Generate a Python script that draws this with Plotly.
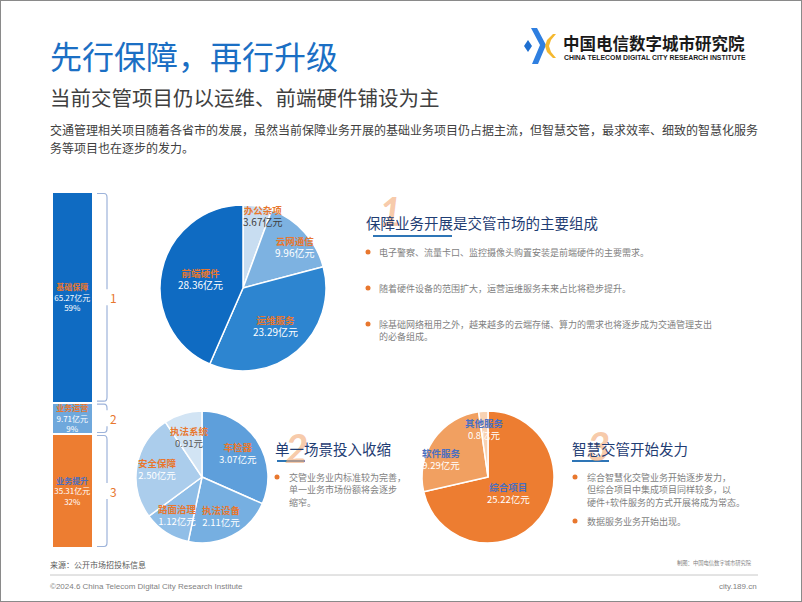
import math
import plotly.graph_objects as go

W, H = 802, 602
FONT = "Noto Sans CJK SC, Noto Sans, sans-serif"

# ---------------- data ----------------
bar_cats = ['基础保障', '业务运营', '业务提升']
bar_vals = [65.27, 9.71, 35.31]
bar_pcts = ['59%', '9%', '32%']
bar_nums = ['1', '2', '3']

p1_labels = ['办公杂项', '云网通信', '运维服务', '前端硬件']
p1_vals = [3.67, 9.96, 23.29, 28.36]
p1_vtext = ['3.67亿元', '9.96亿元', '23.29亿元', '28.36亿元']

p2_labels = ['车检器', '执法设备', '路面治理', '安全保障', '执法系统']
p2_vals = [3.07, 2.11, 1.12, 2.50, 0.91]
p2_vtext = ['3.07亿元', '2.11亿元', '1.12亿元', '2.50亿元', '0.91元']

p3_labels = ['综合项目', '软件服务', '其他服务']
p3_vals = [25.22, 9.29, 0.8]
p3_vtext = ['25.22亿元', '9.29亿元', '0.8亿元']

# ---------------- styles ----------------
ORANGE = '#e8772e'
bar_colors = ['#0f6bc2', '#6fa8dc', '#ed7d31']
bar_namecol = [ORANGE, ORANGE, '#4a6fc0']
p1_colors = ['#c8ddf1', '#7db2e1', '#2d85d0', '#0f6bc2']
p1_valcol = ['#404040', 'white', 'white', 'white']
p1_k = [0.88, 0.8, 0.6, 0.52]
p1_off = [(7, 0), (2, 4), (0, 0), (0, 0)]
p2_colors = ['#5e9fdb', '#76afe1', '#90bee7', '#abcdec', '#d2e4f4']
p2_valcol = ['white', 'white', 'white', 'white', '#595959']
p2_k = [0.66, 0.66, 0.68, 0.69, 0.64]
p2_off = [(0, 0), (0, 0), (0, 0), (0, 0), (0, 0)]
p3_colors = ['#ed7d31', '#f1a061', '#f8d2b3']
p3_valcol = ['white', 'white', 'white']
p3_k = [0.39, 0.74, 0.73]
p3_off = [(0, 0), (-6, 10), (0, 0)]

fig = go.Figure()
ann = []
shapes = []


def px(x):
    return x / W


def py(y):
    return 1 - y / H


def txt(x, y, s, size, color, anchor='left', family=FONT, yanchor='middle', **kw):
    ann.append(dict(x=px(x), y=py(y), xref='paper', yref='paper', text=s,
                    showarrow=False, xanchor=anchor, yanchor=yanchor,
                    font=dict(size=size, color=color, family=family), **kw))


def poly(points, color):
    d = 'M ' + ' L '.join(f'{px(a)},{py(b)}' for a, b in points) + ' Z'
    shapes.append(dict(type='path', path=d, xref='paper', yref='paper',
                       fillcolor=color, line=dict(width=0)))


# ---------------- stacked bar ----------------
total = sum(bar_vals)
for i in reversed(range(len(bar_vals))):
    t = (f"<b><span style='color:{bar_namecol[i]}'>{bar_cats[i]}</span></b><br>"
         f"{bar_vals[i]:.2f}亿元<br>{bar_pcts[i]}")
    fig.add_trace(go.Bar(x=[0], y=[bar_vals[i]], width=1, marker=dict(color=bar_colors[i], line=dict(color='white', width=2.5)),
                         text=[t], textposition='inside', insidetextanchor='middle', constraintext='none', textangle=0,
                         textfont=dict(size=8, color='white', family=FONT), hoverinfo='skip', showlegend=False))

bar_top, bar_bot = 192, 548
ppu = (bar_bot - bar_top) / total
hi = total
for i, v in enumerate(bar_vals):
    lo = hi - v
    top = hi - 1.5 / ppu
    bot = lo + 1.5 / ppu
    mid = (hi + lo) / 2
    gap = 8 / ppu
    rr = 4 / ppu
    x0, xc, x1 = px(97), px(104), px(107)
    path = (f"M {x0},{top} L {xc},{top} Q {x1},{top} {x1},{top - rr} L {x1},{mid + gap} "
            f"M {x1},{mid - gap} L {x1},{bot + rr} Q {x1},{bot} {xc},{bot} L {x0},{bot}")
    shapes.append(dict(type='path', path=path, xref='paper', yref='y', line=dict(color='#9db3da', width=1.2)))
    ann.append(dict(x=px(107.5), y=mid, xref='paper', yref='y', text=bar_nums[i], showarrow=False,
                    font=dict(size=12, color=ORANGE, family=FONT)))
    hi = lo


# ---------------- pies ----------------
def add_pie(labels, vals, colors, cx, cy, r, vtext, namecol, valcol, ks, offs, nsize, vsize):
    fig.add_trace(go.Pie(labels=labels, values=vals, sort=False, direction='clockwise', rotation=0,
                         marker=dict(colors=colors, line=dict(color='white', width=1.5)),
                         textinfo='none', hoverinfo='skip', showlegend=False,
                         domain=dict(x=[px(cx - r), px(cx + r)], y=[py(cy + r), py(cy - r)])))
    tot = sum(vals)
    cum = 0
    for i, v in enumerate(vals):
        a = 2 * math.pi * (cum + v / 2) / tot
        cum += v
        lx = cx + ks[i] * r * math.sin(a) + offs[i][0]
        ly = cy - ks[i] * r * math.cos(a) + offs[i][1]
        s = (f"<b><span style='color:{namecol}'>{labels[i]}</span></b><br>"
             f"<span style='color:{valcol[i]};font-size:{vsize}px'>{vtext[i]}</span>")
        txt(lx, ly, s, nsize, namecol, anchor='center')


add_pie(p1_labels, p1_vals, p1_colors, 243, 288, 83, p1_vtext, ORANGE, p1_valcol, p1_k, p1_off, 9.5, 10)
add_pie(p2_labels, p2_vals, p2_colors, 202, 477, 66, p2_vtext, ORANGE, p2_valcol, p2_k, p2_off, 9.5, 9.5)
add_pie(p3_labels, p3_vals, p3_colors, 488, 477, 66, p3_vtext, '#4a6fc0', p3_valcol, p3_k, p3_off, 9.5, 9.5)

# ---------------- header ----------------
txt(48, 55, '先行保障，再行升级', 32, '#1b6fc4')
txt(48, 97, '当前交管项目仍以运维、前端硬件铺设为主', 20.5, '#404040')
txt(48, 130, '交通管理相关项目随着各省市的发展，虽然当前保障业务开展的基础业务项目仍占据主流，但智慧交管，最求效率、细致的智慧化服务', 12, '#404040')
txt(48, 147, '务等项目也在逐步的发力。', 12, '#404040')

# logo
poly([(524, 46), (528, 40), (532, 46), (528, 52)], '#1e6fd0')
poly([(531, 28), (537, 28), (546, 45), (538, 64), (532, 64), (540, 45)], '#2f7fe0')
poly([(556, 34), (551, 40), (549, 46), (551, 52), (556, 58), (553, 58), (547, 52), (545, 46), (547, 40), (553, 34)], '#f5b82e')
txt(561, 42.5, '<b>中国电信数字城市研究院</b>', 16.5, '#1a1a1a')
txt(562, 57, '<b>CHINA TELECOM DIGITAL CITY RESEARCH INSTITUTE</b>', 6.9, '#1a1a1a', family='Liberation Sans, Arial')

# ---------------- right text blocks ----------------
BIG = dict(size=40, color='rgba(243,172,122,0.65)', family='Lato, DejaVu Sans', style='italic', weight='bold')
for x, y, n in [(390, 211, '1'), (296, 448, '2'), (598, 446, '3')]:
    ann.append(dict(x=px(x), y=py(y), xref='paper', yref='paper', text=n, showarrow=False,
                    xanchor='center', yanchor='middle', font=BIG))

NAVY = '#1f3d73'
GREY = '#7f7f7f'
txt(364, 223, '保障业务开展是交管市场的主要组成', 14.5, NAVY)
shapes.append(dict(type='line', xref='paper', yref='paper', x0=px(373), x1=px(452), y0=py(236), y1=py(236),
                   line=dict(color='#2e75b6', width=2)))
b1 = [(252, ['电子警察、流量卡口、监控摄像头购置安装是前端硬件的主要需求。']),
      (288, ['随着硬件设备的范围扩大，运营运维服务未来占比将稳步提升。']),
      (324, ['除基础网络租用之外，越来越多的云端存储、算力的需求也将逐步成为交通管理支出', '的必备组成。'])]

txt(273, 448, '单一场景投入收缩', 14.5, NAVY)
shapes.append(dict(type='line', xref='paper', yref='paper', x0=px(277), x1=px(305), y0=py(461), y1=py(461),
                   line=dict(color='#2e75b6', width=2)))
txt(570, 448, '智慧交管开始发力', 14.5, NAVY)
shapes.append(dict(type='line', xref='paper', yref='paper', x0=px(572), x1=px(609), y0=py(461), y1=py(461),
                   line=dict(color='#2e75b6', width=2)))


def bullets(dotx, tx, items, lh=13):
    for y, lines in items:
        shapes.append(dict(type='circle', xref='paper', yref='paper', x0=px(dotx - 2.5), x1=px(dotx + 2.5),
                           y0=py(y + 2.5), y1=py(y - 2.5), fillcolor=ORANGE, line=dict(width=0)))
        for j, l in enumerate(lines):
            txt(tx, y + j * lh, l, 9, GREY)


bullets(368, 377, b1)
bullets(277, 287, [(477, ['交管业务业内标准较为完善，', '单一业务市场份额将会逐步', '缩窄。'])], lh=12.8)
bullets(575, 585, [(477, ['综合智慧化交管业务开始逐步发力，', '但综合项目中集成项目同样较多，以', '硬件+软件服务的方式开展将成为常态。']),
                   (521, ['数据服务业务开始出现。'])], lh=12.8)

# ---------------- footer ----------------
txt(48, 564, '来源：公开市场招投标信息', 8, '#595959')
txt(675, 563, '制图：中国电信数字城市研究院', 5.3, '#7f7f7f')
shapes.append(dict(type='line', xref='paper', yref='paper', x0=px(50), x1=px(758), y0=py(575), y1=py(575),
                   line=dict(color='#c8c8c8', width=1)))
txt(48, 586, '©2024.6 China Telecom Digital City Research Institute', 8, '#7f7f7f', family='Liberation Sans Narrow, Liberation Sans, Arial')
txt(759, 586, 'city.189.cn', 8, '#7f7f7f', anchor='right', family='Liberation Sans Narrow, Liberation Sans, Arial')

# frame
shapes.append(dict(type='rect', xref='paper', yref='paper', x0=0, x1=1, y0=0, y1=1,
                   line=dict(color='#8a8a8a', width=2)))

fig.update_layout(
    width=W, height=H, margin=dict(l=0, r=0, t=0, b=0),
    paper_bgcolor='white', plot_bgcolor='rgba(0,0,0,0)',
    barmode='stack', bargap=0,
    xaxis=dict(domain=[px(52), px(93)], range=[-0.5, 0.5], visible=False, fixedrange=True),
    yaxis=dict(domain=[py(bar_bot), py(bar_top)], range=[0, total], visible=False, fixedrange=True),
    annotations=ann, shapes=shapes, font=dict(family=FONT),
)

fig.write_html("out.html")
